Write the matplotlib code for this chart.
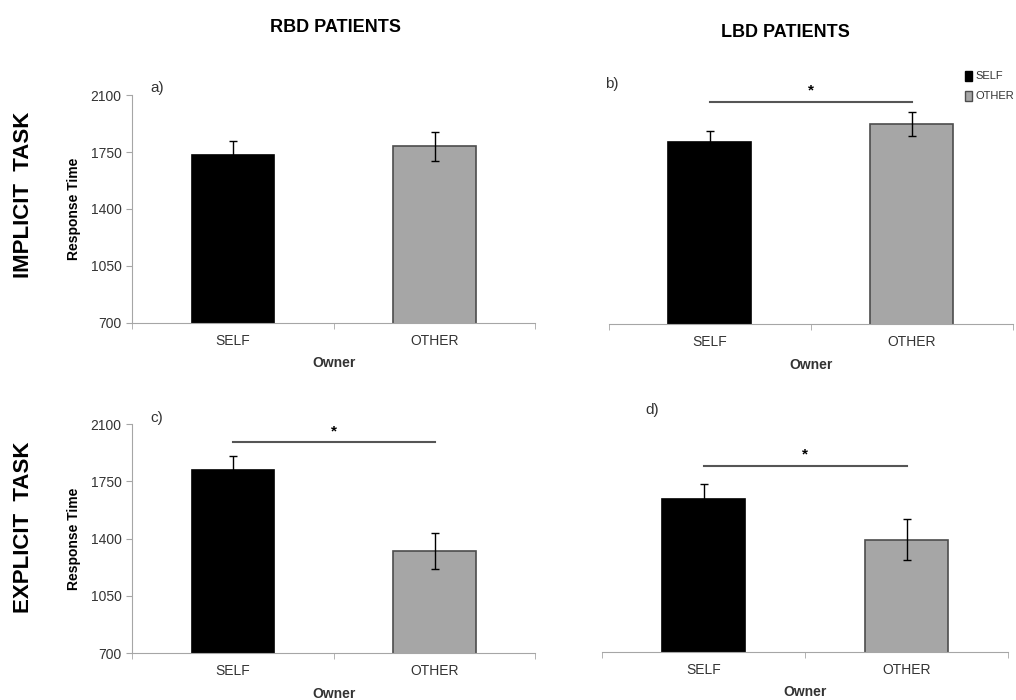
import matplotlib as mpl
mpl.use('Agg')
import matplotlib.pyplot as plt

plt.rcParams['font.family'] = ['Liberation Sans', 'DejaVu Sans']

owners = ['SELF', 'OTHER']
# mean response times and error bars, panels a-d
rbd_implicit = [1735, 1785]
rbd_implicit_err = [85, 88]
lbd_implicit = [1820, 1930]
lbd_implicit_err = [66, 74]
rbd_explicit = [1818, 1322]
rbd_explicit_err = [86, 110]
lbd_explicit = [1636, 1384]
lbd_explicit_err = [90, 126]
# significance bar heights (None = no bar)
sig_heights = [None, 2068, 1990, 1838]
yticks = [700, 1050, 1400, 1750, 2100]

panels = [
    ('a)', rbd_implicit, rbd_implicit_err, [0.130, 0.539, 0.397, 0.325], True),
    ('b)', lbd_implicit, lbd_implicit_err, [0.599, 0.537, 0.398, 0.325], False),
    ('c)', rbd_explicit, rbd_explicit_err, [0.130, 0.067, 0.397, 0.327], True),
    ('d)', lbd_explicit, lbd_explicit_err, [0.593, 0.069, 0.399, 0.327], False),
]

fig = plt.figure(figsize=(10.16, 7), dpi=100)
axis_grey = '#a6a6a6'

for i, (tag, vals, errs, rect, show_y) in enumerate(panels):
    ax = fig.add_axes(rect)
    ax.bar([0, 1], vals, width=0.41, color=['black', '#a6a6a6'],
           edgecolor=['black', '#4d4d4d'], linewidth=1.2, zorder=2)
    ax.errorbar([0, 1], vals, yerr=errs, fmt='none', ecolor='black',
                elinewidth=1, capsize=3, capthick=1, zorder=3)
    ax.set_xlim(-0.5, 1.5)
    ax.set_ylim(700, 2100)
    ax.set_xticks([0, 1])
    ax.set_xticklabels(owners, fontsize=10, color='#333333')
    ax.set_xticks([-0.5, 0.5, 1.5], minor=True)
    ax.tick_params(axis='x', which='major', length=0, pad=8)
    ax.tick_params(axis='x', which='minor', length=4, color=axis_grey)
    for s in ['top', 'right']:
        ax.spines[s].set_visible(False)
    ax.spines['bottom'].set_color(axis_grey)
    ax.spines['left'].set_color(axis_grey)
    ax.set_xlabel('Owner', fontsize=10, fontweight='bold', color='#333333', labelpad=6)
    if show_y:
        ax.set_yticks(yticks)
        ax.tick_params(axis='y', labelsize=10, labelcolor='#333333',
                       color=axis_grey, length=4)
        ax.set_ylabel('Response Time', fontsize=10, fontweight='bold', labelpad=7)
    else:
        ax.spines['left'].set_visible(False)
        ax.set_yticks([])
    if sig_heights[i] is not None:
        h = sig_heights[i]
        ax.plot([0, 1], [h, h], color='#555555', lw=1.5, clip_on=False)
        ax.text(0.5, h + 25, '*', ha='center', va='bottom', fontsize=11,
                fontweight='bold', color='black')

tag_pos = [(0.148, 0.874), (0.596, 0.880), (0.148, 0.403), (0.635, 0.414)]
for (tag, *_), (x, y) in zip(panels, tag_pos):
    fig.text(x, y, tag, fontsize=11, color='#333333', va='center')

# legend for panel b
fig.patches.append(mpl.patches.Rectangle((0.950, 0.885), 0.007, 0.014, color='black',
                                         transform=fig.transFigure))
fig.patches.append(mpl.patches.Rectangle((0.950, 0.856), 0.007, 0.014, facecolor='#a6a6a6',
                                         edgecolor='#4d4d4d', lw=1, transform=fig.transFigure))
fig.text(0.960, 0.892, 'SELF', fontsize=8, va='center', color='#333333')
fig.text(0.960, 0.863, 'OTHER', fontsize=8, va='center', color='#333333')

fig.text(0.330, 0.960, 'RBD PATIENTS', fontsize=13, fontweight='bold', ha='center', va='center')
fig.text(0.773, 0.953, 'LBD PATIENTS', fontsize=13, fontweight='bold', ha='center', va='center')
fig.text(0.023, 0.721, 'IMPLICIT  TASK', fontsize=16, fontweight='bold', rotation=90,
         ha='center', va='center')
fig.text(0.023, 0.247, 'EXPLICIT  TASK', fontsize=16, fontweight='bold', rotation=90,
         ha='center', va='center')

plt.savefig('out.png', dpi=100)
